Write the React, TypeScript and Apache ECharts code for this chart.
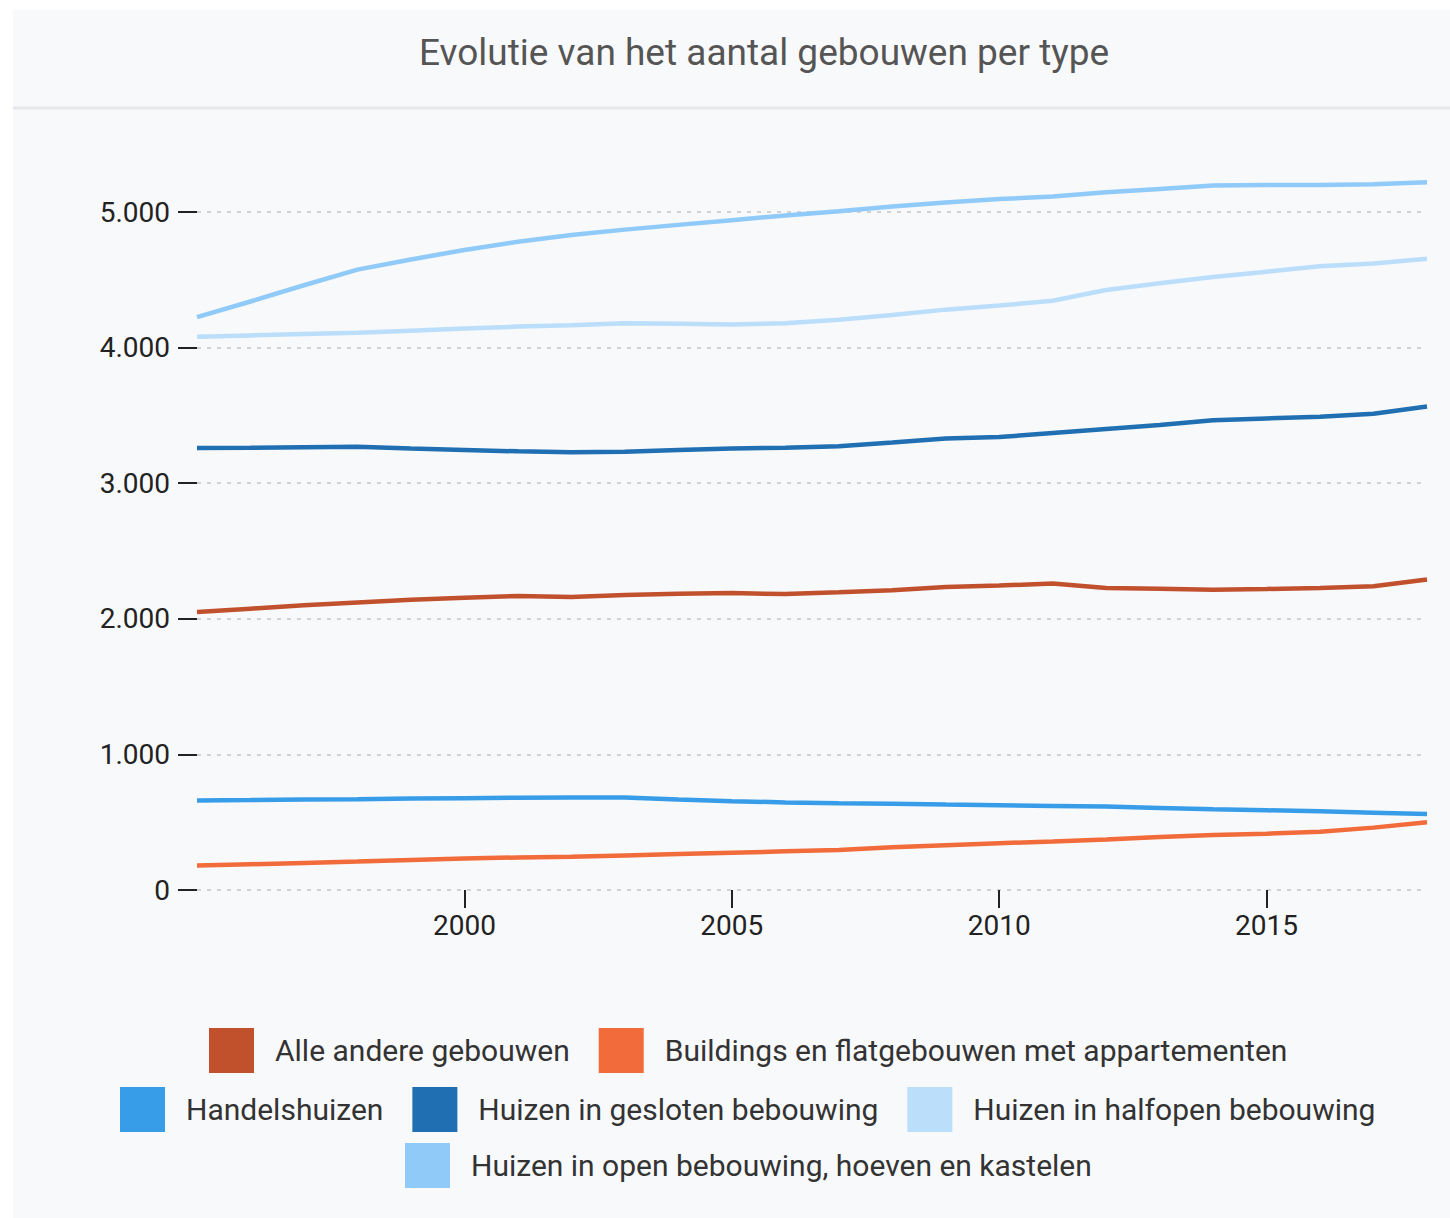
import React, { useEffect, useRef } from 'react';
import * as echarts from 'echarts';

const years = [1995, 1996, 1997, 1998, 1999, 2000, 2001, 2002, 2003, 2004, 2005, 2006, 2007, 2008, 2009, 2010, 2011, 2012, 2013, 2014, 2015, 2016, 2017, 2018];

const alleAndere = [2050, 2075, 2100, 2120, 2140, 2155, 2168, 2160, 2175, 2185, 2190, 2182, 2195, 2210, 2235, 2245, 2260, 2228, 2222, 2215, 2220, 2228, 2240, 2290];
const buildings = [180, 190, 200, 210, 222, 232, 240, 245, 255, 265, 275, 285, 295, 315, 330, 345, 358, 372, 390, 405, 415, 430, 460, 500];
const handelshuizen = [660, 663, 667, 670, 674, 677, 680, 682, 683, 668, 655, 646, 640, 636, 630, 625, 620, 615, 605, 595, 588, 580, 570, 560];
const gesloten = [3260, 3262, 3265, 3268, 3255, 3245, 3235, 3228, 3232, 3245, 3255, 3262, 3272, 3300, 3330, 3340, 3370, 3400, 3430, 3465, 3478, 3490, 3512, 3565];
const halfopen = [4080, 4090, 4100, 4110, 4125, 4140, 4155, 4165, 4180, 4175, 4170, 4180, 4205, 4240, 4280, 4310, 4345, 4425, 4475, 4520, 4560, 4600, 4620, 4655];
const openBebouwing = [4225, 4340, 4460, 4575, 4650, 4720, 4780, 4830, 4870, 4905, 4940, 4975, 5005, 5040, 5070, 5095, 5115, 5145, 5170, 5195, 5200, 5200, 5205, 5220];

const seriesNames = [
  'Alle andere gebouwen',
  'Buildings en flatgebouwen met appartementen',
  'Handelshuizen',
  'Huizen in gesloten bebouwing',
  'Huizen in halfopen bebouwing',
  'Huizen in open bebouwing, hoeven en kastelen',
];
const seriesValues = [alleAndere, buildings, handelshuizen, gesloten, halfopen, openBebouwing];
const seriesColors = ['#C1512D', '#F26B3A', '#389DE9', '#1F6FB2', '#BBDEFB', '#90CAF9'];

const xTickYears = [2000, 2005, 2010, 2015];
const yTicks = [0, 1000, 2000, 3000, 4000, 5000];

const titleText = 'Evolutie van het aantal gebouwen per type';

function fmt(v: number): string {
  return String(v).replace(/\B(?=(\d{3})+(?!\d))/g, '.');
}

export default function App() {
  const ref = useRef<HTMLDivElement>(null);
  useEffect(() => {
    document.body.style.margin = '0';
    const chart = echarts.init(ref.current!, null, { renderer: 'svg' });
    const font = 'Roboto';
    const legendCommon = {
      orient: 'horizontal',
      icon: 'rect',
      itemWidth: 45,
      itemHeight: 45,
      itemGap: 29,
      padding: 0,
      selectedMode: false,
      textStyle: { fontFamily: font, fontSize: 30, color: '#333', padding: [0, 0, 0, 16] },
    };
    chart.setOption({
      animation: false,
      backgroundColor: '#ffffff',
      graphic: [
        { type: 'rect', z: -10, silent: true, shape: { x: 13, y: 10, width: 1437, height: 1208 }, style: { fill: '#F8F9FB' } },
        { type: 'line', z: -9, silent: true, shape: { x1: 13, y1: 108, x2: 1450, y2: 108 }, style: { stroke: '#E6E7EA', lineWidth: 3 } },
      ],
      title: {
        text: titleText,
        left: 414,
        top: 29,
        textStyle: { fontFamily: font, fontSize: 37, fontWeight: 'normal', color: '#555' },
      },
      legend: [
        { ...legendCommon, left: 209, top: 1028, data: seriesNames.slice(0, 2) },
        { ...legendCommon, left: 120, top: 1087, data: seriesNames.slice(2, 5) },
        { ...legendCommon, left: 405, top: 1143, data: seriesNames.slice(5) },
      ],
      grid: { left: 197, right: 23, top: 212, bottom: 328, containLabel: false },
      xAxis: {
        type: 'value',
        min: years[0],
        max: years[years.length - 1],
        axisLine: { show: false },
        axisTick: { show: true, length: 18, customValues: xTickYears, lineStyle: { color: '#222', width: 2 } },
        axisLabel: { customValues: xTickYears, margin: 21, fontFamily: font, fontSize: 28, color: '#222', formatter: (v: number) => String(v) },
        splitLine: { show: false },
      },
      yAxis: {
        type: 'value',
        min: 0,
        max: 5000,
        interval: 1000,
        axisLine: { show: false },
        axisTick: { show: true, length: 19, lineStyle: { color: '#222', width: 2 } },
        axisLabel: { margin: 27, fontFamily: font, fontSize: 28, color: '#222', formatter: (v: number) => (yTicks.includes(v) ? fmt(v) : '') },
        splitLine: { show: true, lineStyle: { color: '#D2D2D2', width: 2, type: [4, 6] } },
      },
      series: seriesNames.map((name, i) => ({
        name,
        type: 'line',
        clip: false,
        showSymbol: false,
        symbol: 'none',
        color: seriesColors[i],
        lineStyle: { width: 4.5, color: seriesColors[i] },
        data: years.map((y, j) => [y, seriesValues[i][j]]),
      })),
    });
    return () => chart.dispose();
  }, []);
  return <div ref={ref} style={{ width: 1450, height: 1218, position: 'absolute', left: 0, top: 0 }} />;
}
